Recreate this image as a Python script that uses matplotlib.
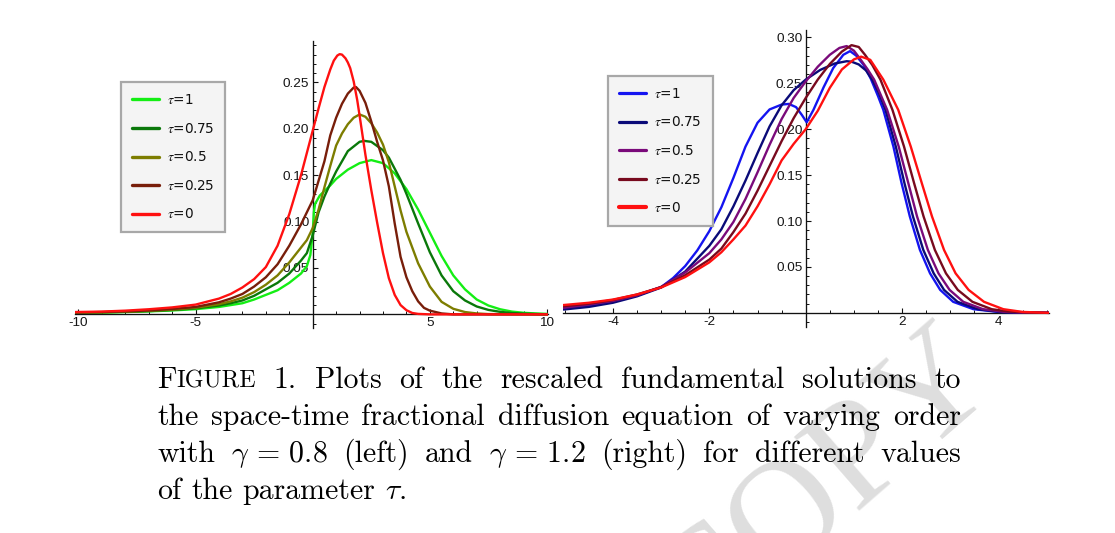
import matplotlib
matplotlib.use('Agg')
import matplotlib.pyplot as plt
from matplotlib.ticker import FixedLocator, FixedFormatter
from matplotlib.font_manager import FontProperties

# ---------------- data ----------------
# left panel, gamma = 0.8
L_x_t1 = [-10.15, -9, -8, -7, -6, -5, -4, -3.5, -3, -2.5, -2, -1.5, -1, -0.5, -0.25, -0.1, 0, 0.05, 0.1, 0.3,
          0.5, 0.75, 1.0, 1.5, 2.0, 2.5, 3.0, 3.5, 4.0, 4.5, 5.0, 5.5, 6.0, 6.5, 7.0, 7.5, 8.0, 8.5, 9.0, 9.5, 10.03]
L_y_t1 = [0.0018, 0.002, 0.0025, 0.0032, 0.0042, 0.0056, 0.008, 0.010, 0.012, 0.016, 0.021, 0.026, 0.034, 0.044,
          0.052, 0.064, 0.088, 0.110, 0.119, 0.128, 0.133, 0.139, 0.146, 0.156, 0.163, 0.1663, 0.163, 0.152, 0.135,
          0.113, 0.088, 0.063, 0.042, 0.027, 0.016, 0.0095, 0.0055, 0.003, 0.0017, 0.001, 0.0005]

L_x_t075 = [-10.15, -9, -8, -7, -6, -5, -4, -3.5, -3, -2.5, -2, -1.5, -1, -0.5, -0.25, 0, 0.1, 0.25, 0.5, 0.75,
            1.0, 1.5, 2.0, 2.2, 2.5, 3.0, 3.25, 3.5, 3.75, 4.0, 4.5, 5.0, 5.5, 6.0, 6.5, 7.0, 7.5, 8.0, 8.5, 9.0, 10.03]
L_y_t075 = [0.0018, 0.0021, 0.0027, 0.0035, 0.0047, 0.0065, 0.0095, 0.012, 0.015, 0.020, 0.027, 0.034, 0.044,
            0.058, 0.066, 0.085, 0.095, 0.110, 0.127, 0.141, 0.154, 0.176, 0.186, 0.187, 0.186, 0.177, 0.169, 0.157,
            0.145, 0.130, 0.098, 0.067, 0.042, 0.025, 0.015, 0.0085, 0.0048, 0.0027, 0.0015, 0.0008, 0]

L_x_t05 = [-10.15, -9, -8, -7, -6, -5, -4, -3.5, -3, -2.5, -2, -1.5, -1, -0.5, -0.25, 0, 0.25, 0.5, 0.75, 1.0,
           1.25, 1.5, 1.75, 2.0, 2.25, 2.5, 2.75, 3.0, 3.25, 3.5, 3.75, 4.0, 4.5, 5.0, 5.5, 6.0, 6.5, 7.0, 7.5, 10.03]
L_y_t05 = [0.0019, 0.0023, 0.0029, 0.0038, 0.0051, 0.0071, 0.011, 0.014, 0.018, 0.024, 0.032, 0.042, 0.056, 0.072,
           0.080, 0.093, 0.113, 0.137, 0.160, 0.182, 0.195, 0.205, 0.212, 0.2155, 0.213, 0.206, 0.196, 0.183, 0.164,
           0.138, 0.112, 0.089, 0.055, 0.030, 0.0135, 0.006, 0.0025, 0.001, 0.0003, 0]

L_x_t025 = [-10.15, -9, -8, -7, -6, -5, -4, -3.5, -3, -2.5, -2, -1.5, -1, -0.5, 0, 0.25, 0.5, 0.75, 1.0, 1.25,
            1.5, 1.75, 1.85, 2.0, 2.25, 2.5, 2.75, 3.0, 3.25, 3.5, 3.75, 4.0, 4.25, 4.5, 4.75, 5.0, 5.5, 6, 10.03]
L_y_t025 = [0.002, 0.0025, 0.0032, 0.0042, 0.0058, 0.008, 0.013, 0.017, 0.022, 0.030, 0.040, 0.054, 0.074, 0.097,
            0.123, 0.144, 0.165, 0.193, 0.212, 0.227, 0.238, 0.2445, 0.245, 0.241, 0.228, 0.208, 0.186, 0.166, 0.138,
            0.098, 0.062, 0.040, 0.025, 0.014, 0.007, 0.004, 0.001, 0, 0]

L_x_t0 = [-10.15, -9, -8, -7, -6, -5, -4, -3.5, -3, -2.5, -2, -1.5, -1, -0.5, 0, 0.25, 0.5, 0.75, 0.9, 1.05,
          1.15, 1.25, 1.4, 1.5, 1.6, 1.75, 1.9, 2.0, 2.25, 2.5, 2.75, 3.0, 3.25, 3.5, 3.75, 4.0, 4.25, 4.5, 5, 10.03]
L_y_t0 = [0.0025, 0.003, 0.004, 0.0055, 0.0075, 0.0105, 0.017, 0.022, 0.029, 0.038, 0.051, 0.074, 0.108, 0.150,
          0.198, 0.222, 0.245, 0.264, 0.2735, 0.279, 0.2805, 0.280, 0.276, 0.2715, 0.2655, 0.251, 0.231, 0.2145,
          0.172, 0.134, 0.099, 0.066, 0.039, 0.021, 0.010, 0.0045, 0.0015, 0.0005, 0, 0]

# right panel, gamma = 1.2
R_x_t1 = [-5.03, -4.5, -4, -3.5, -3, -2.75, -2.5, -2.25, -2, -1.75, -1.5, -1.25, -1.0, -0.75, -0.5, -0.35, -0.2,
          -0.08, 0.02, 0.16, 0.37, 0.57, 0.78, 0.92, 1.05, 1.2, 1.35, 1.5, 1.61, 1.82, 1.99, 2.16, 2.37, 2.58,
          2.79, 3.06, 3.48, 4.0, 4.5, 5.05]
R_y_t1 = [0.0045, 0.0075, 0.012, 0.019, 0.028, 0.038, 0.051, 0.068, 0.089, 0.115, 0.147, 0.181, 0.207, 0.2215,
          0.2268, 0.2275, 0.224, 0.2155, 0.2075, 0.221, 0.2455, 0.2665, 0.281, 0.285, 0.280, 0.270, 0.255, 0.236,
          0.221, 0.181, 0.141, 0.105, 0.0685, 0.043, 0.025, 0.012, 0.004, 0.001, 0.0003, 0]

R_x_t075 = [-5.03, -4.5, -4, -3.5, -3, -2.5, -2, -1.75, -1.5, -1.25, -1.0, -0.75, -0.5, -0.25, 0, 0.3, 0.6, 0.85,
            0.95, 1.1, 1.25, 1.38, 1.52, 1.655, 1.87, 2.05, 2.225, 2.44, 2.655, 2.87, 3.15, 3.57, 4.0, 4.5, 5.05]
R_y_t075 = [0.0036, 0.0065, 0.011, 0.018, 0.0276, 0.045, 0.073, 0.091, 0.116, 0.144, 0.174, 0.203, 0.226, 0.2425,
            0.254, 0.2645, 0.2715, 0.274, 0.2735, 0.2705, 0.264, 0.254, 0.239, 0.221, 0.181, 0.141, 0.105, 0.0685,
            0.043, 0.025, 0.012, 0.004, 0.0012, 0.0003, 0]

R_x_t05 = [-5.03, -4.5, -4, -3.5, -3, -2.5, -2, -1.75, -1.5, -1.25, -1.0, -0.75, -0.5, -0.25, 0, 0.25, 0.5, 0.7,
           0.85, 1.0, 1.13, 1.28, 1.42, 1.69, 1.93, 2.13, 2.31, 2.535, 2.755, 2.985, 3.27, 3.68, 4.1, 4.5, 5.05]
R_y_t05 = [0.0055, 0.009, 0.013, 0.019, 0.0283, 0.044, 0.065, 0.080, 0.099, 0.124, 0.153, 0.183, 0.211, 0.234,
           0.252, 0.268, 0.281, 0.2885, 0.2905, 0.2855, 0.2765, 0.2655, 0.254, 0.221, 0.181, 0.141, 0.105, 0.0685,
           0.043, 0.025, 0.012, 0.004, 0.0012, 0.0003, 0]

R_x_t025 = [-5.03, -4.5, -4, -3.5, -3, -2.5, -2, -1.75, -1.5, -1.25, -1.0, -0.75, -0.5, -0.25, 0, 0.25, 0.5, 0.75,
            0.95, 1.1, 1.23, 1.38, 1.55, 1.80, 2.04, 2.25, 2.445, 2.68, 2.91, 3.155, 3.46, 3.86, 4.2, 4.6, 5.05]
R_y_t025 = [0.0072, 0.010, 0.014, 0.020, 0.028, 0.041, 0.058, 0.070, 0.088, 0.108, 0.133, 0.160, 0.187, 0.212,
            0.234, 0.254, 0.271, 0.2845, 0.2915, 0.2895, 0.281, 0.270, 0.254, 0.221, 0.181, 0.141, 0.105, 0.0685,
            0.043, 0.025, 0.012, 0.004, 0.0015, 0.0004, 0]

R_x_t0 = [-5.03, -4.5, -4, -3.5, -3, -2.5, -2, -1.75, -1.5, -1.25, -1.0, -0.75, -0.5, -0.25, 0, 0.25, 0.5, 0.75,
          1.0, 1.15, 1.34, 1.61, 1.92, 2.18, 2.41, 2.62, 2.87, 3.11, 3.38, 3.70, 4.10, 4.5, 5.05]
R_y_t0 = [0.0085, 0.011, 0.0145, 0.020, 0.0276, 0.039, 0.055, 0.066, 0.080, 0.095, 0.116, 0.140, 0.166, 0.184,
          0.200, 0.220, 0.245, 0.265, 0.276, 0.279, 0.2755, 0.254, 0.221, 0.181, 0.141, 0.105, 0.0685, 0.043,
          0.025, 0.012, 0.004, 0.001, 0]

tau_labels = ['1', '0.75', '0.5', '0.25', '0']
left_colors = ['#14ee14', '#0a780a', '#7d7d00', '#781e0a', '#ff1010']
right_colors = ['#1414f0', '#0a0a78', '#7a0a7a', '#780a1e', '#ff1010']

L_xticks = [-10, -5, 5, 10]
L_xticklabels = ['-10', '-5', '5', '10']
L_yticks = [0.05, 0.10, 0.15, 0.20, 0.25]
L_yticklabels = ['0.05', '0.10', '0.15', '0.20', '0.25']
R_xticks = [-4, -2, 2, 4]
R_xticklabels = ['-4', '-2', '2', '4']
R_yticks = [0.05, 0.10, 0.15, 0.20, 0.25, 0.30]
R_yticklabels = ['0.05', '0.10', '0.15', '0.20', '0.25', '0.30']

caption_lines = [
    [[('F', 1.0), ('IGURE', 0.8)], '1.', 'Plots', 'of', 'the', 'rescaled', 'fundamental', 'solutions', 'to'],
    ['the', 'space-time', 'fractional', 'diffusion', 'equation', 'of', 'varying', 'order'],
    ['with', r'$\gamma\,=\,0.8$', '(left)', 'and', r'$\gamma\,=\,1.2$', '(right)', 'for', 'different', 'values'],
    ['of', 'the', 'parameter', r'$\tau$.'],
]

# ---------------- figure ----------------
W, H = 1115, 533
fig = plt.figure(figsize=(W / 100, H / 100), dpi=100)
fig.patch.set_facecolor('white')


def px_box(x0, y0, x1, y1):
    return [x0 / W, 1 - y1 / H, (x1 - x0) / W, (y1 - y0) / H]


axL = fig.add_axes(px_box(74.9, 40.7, 547.7, 328))
axR = fig.add_axes(px_box(563.3, 30, 1049.1, 327))

tick_font = FontProperties(family='Liberation Sans', size=9.7)


def style(ax, xlim, ylim, xt, xtl, xminor, yt, ytl, yminor):
    ax.set_xlim(xlim)
    ax.set_ylim(ylim)
    ax.patch.set_alpha(0)
    for s in ['top', 'right']:
        ax.spines[s].set_visible(False)
    ax.spines['left'].set_position(('data', 0))
    ax.spines['bottom'].set_position(('data', 0))
    for s in ['left', 'bottom']:
        ax.spines[s].set_linewidth(0.95)
        ax.spines[s].set_color('#111111')
    ax.xaxis.set_major_locator(FixedLocator(xt))
    ax.xaxis.set_major_formatter(FixedFormatter(xtl))
    ax.xaxis.set_minor_locator(FixedLocator(xminor))
    ax.yaxis.set_major_locator(FixedLocator(yt))
    ax.yaxis.set_major_formatter(FixedFormatter(ytl))
    ax.yaxis.set_minor_locator(FixedLocator(yminor))
    ax.tick_params(which='major', direction='in', length=3.4, width=0.8, color='#111111')
    ax.tick_params(which='minor', direction='in', length=1.9, width=0.7, color='#111111')
    ax.tick_params(axis='x', which='major', pad=2.0)
    ax.tick_params(axis='y', which='major', pad=2.4)
    for lab in ax.get_xticklabels() + ax.get_yticklabels():
        lab.set_fontproperties(tick_font)
        lab.set_color('#161616')


L_xminor = [v for v in range(-10, 11) if v % 5 != 0]
L_yminor = [round(-0.01 + 0.01 * i, 2) for i in range(31) if (i - 1) % 5 != 0]
R_xminor = [v * 0.5 for v in range(-10, 11) if v % 4 != 0]
R_yminor = [round(-0.01 + 0.01 * i, 2) for i in range(32) if (i - 1) % 5 != 0]

style(axL, (-10.15, 10.03), (-0.0147, 0.295), L_xticks, L_xticklabels, L_xminor,
      L_yticks, L_yticklabels, L_yminor)
style(axR, (-5.03, 5.05), (-0.0154, 0.308), R_xticks, R_xticklabels, R_xminor,
      R_yticks, R_yticklabels, R_yminor)

left_series = [(L_x_t1, L_y_t1), (L_x_t075, L_y_t075), (L_x_t05, L_y_t05),
               (L_x_t025, L_y_t025), (L_x_t0, L_y_t0)]
right_series = [(R_x_t1, R_y_t1), (R_x_t075, R_y_t075), (R_x_t05, R_y_t05),
                (R_x_t025, R_y_t025), (R_x_t0, R_y_t0)]

legend_font = FontProperties(family='DejaVu Sans', size=9.8, math_fontfamily='stix')


def draw_panel(ax, series, colors, box_x, box_y, handle_lws):
    handles = []
    for (xs, ys), c in zip(series, colors):
        ln, = ax.plot(xs, ys, color=c, lw=1.7, zorder=3, solid_joinstyle='round', solid_capstyle='round')
        handles.append(ln)
    labels = [r'$\tau$=' + t for t in tau_labels]
    leg = ax.legend(handles, labels, loc='upper left', bbox_to_anchor=(box_x / W, 1 - box_y / H),
                    bbox_transform=fig.transFigure, borderaxespad=0, frameon=True, fancybox=False,
                    framealpha=1, facecolor='#f4f4f4', edgecolor='#a8a8a8', prop=legend_font,
                    handlelength=2.0, handletextpad=0.6, borderpad=0.8, labelspacing=1.07)
    leg.get_frame().set_linewidth(1.6)
    leg.set_zorder(5)
    for h, lw in zip(leg.legend_handles, handle_lws):
        h.set_linewidth(lw)
    for t in leg.get_texts():
        t.set_color('#111111')
    return leg


draw_panel(axL, left_series, left_colors, 120.7, 82.3, [2.4, 2.4, 2.4, 2.4, 2.4])
draw_panel(axR, right_series, right_colors, 608, 76, [2.3, 2.3, 2.3, 2.3, 3.0])

# ---------------- watermark ----------------
fig.text(825 / W, 1 - 488 / H, 'COPY', rotation=41, fontsize=108, family='Liberation Serif',
         color='#dedede', ha='center', va='center', rotation_mode='anchor', zorder=0)

# ---------------- caption (justified) ----------------
CAP_SIZE = 21.5
renderer = fig.canvas.get_renderer()
X_LEFT, X_RIGHT = 157, 961
baselines = [388, 425, 462, 499]


def make_word(word):
    if isinstance(word, str):
        word = [(word, 1.0)]
    pieces = []
    w = 0.0
    for s, sc in word:
        t = fig.text(0, 0, s, fontsize=CAP_SIZE * sc, family='cmr10', math_fontfamily='cm',
                     ha='left', va='baseline', color='black', zorder=10)
        bb = t.get_window_extent(renderer)
        pieces.append((t, w))
        w += bb.width
    return pieces, w


space_px = 0.333 * CAP_SIZE * 100 / 72
for li, (line, yb) in enumerate(zip(caption_lines, baselines)):
    words = [make_word(w) for w in line]
    total = sum(w for _, w in words)
    if li < len(caption_lines) - 1:
        gap = (X_RIGHT - X_LEFT - total) / (len(words) - 1)
    else:
        gap = space_px
    x = X_LEFT
    for pieces, w in words:
        for t, off in pieces:
            t.set_position(((x + off) / W, 1 - yb / H))
        x += w + gap

fig.savefig('out.png', dpi=100, facecolor='white')
